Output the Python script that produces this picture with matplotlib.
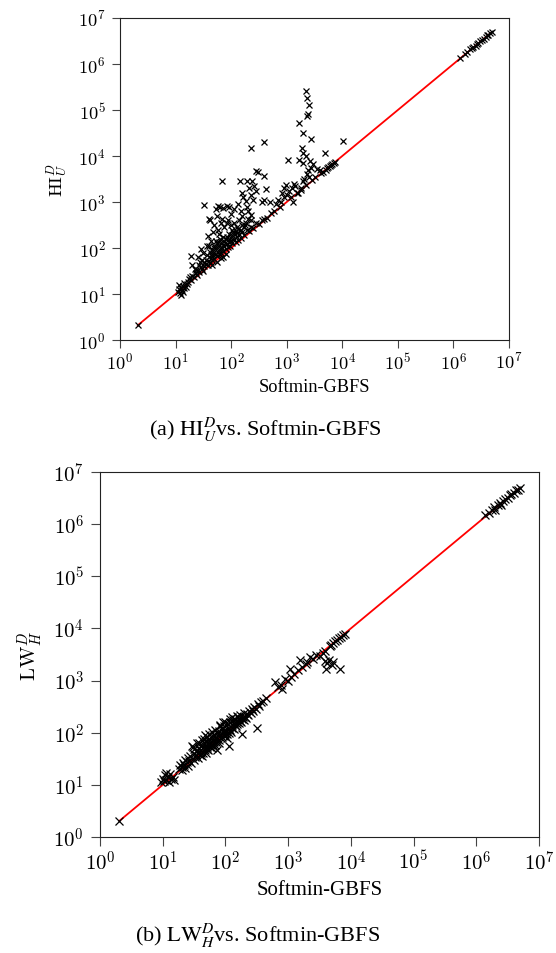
import matplotlib
matplotlib.use("Agg")
import matplotlib.pyplot as plt
from matplotlib.ticker import FixedLocator, FuncFormatter, NullLocator
import numpy as np

plt.rcParams['mathtext.fontset'] = 'cm'
plt.rcParams['font.family'] = ['Liberation Serif', 'DejaVu Serif']

# expansions, as log10 values (x = Softmin-GBFS)
hi_log_x = [0.32,
            1.04, 1.06, 1.08, 1.10, 1.12, 1.14, 1.16, 1.07, 1.18, 1.10, 1.13,
            1.22, 1.25, 1.28, 1.30, 1.33, 1.36, 1.38, 1.40, 1.42, 1.45, 1.48, 1.50,
            1.35, 1.30, 1.44, 1.40, 1.28, 1.50, 1.46,
            1.52, 1.55, 1.58, 1.60, 1.62, 1.64, 1.66, 1.68, 1.70, 1.72, 1.74, 1.76,
            1.78, 1.80, 1.82, 1.84, 1.86, 1.88, 1.90, 1.92, 1.94, 1.96, 1.98, 2.00,
            1.70, 1.75, 1.80, 1.85, 1.65, 1.60, 1.72, 1.78, 1.68, 1.58, 1.62, 1.66,
            1.74, 1.82, 1.90, 1.86,
            2.02, 2.05, 2.08, 2.10, 2.12, 2.15, 2.18, 2.20, 2.24, 2.28, 2.32, 2.36,
            2.40, 2.45, 2.50, 2.55, 2.60, 2.64, 2.10, 2.05, 2.15, 2.20, 2.25, 2.30, 2.02,
            1.51, 1.60, 1.62, 1.72, 1.76, 1.80, 1.86, 1.92, 1.97, 1.74, 1.84, 1.92,
            1.83, 2.16, 2.20, 2.22, 2.26, 2.29, 2.32, 2.38, 2.35, 2.40, 2.28, 2.18,
            2.30, 2.36, 2.45, 2.48, 2.60, 2.62, 2.59, 2.55, 2.42, 2.44, 2.36, 2.12,
            2.05, 2.00, 2.36, 2.60,
            1.55, 1.57, 1.63, 1.67, 1.69, 1.73, 1.77, 1.79, 1.81, 1.83, 1.87, 1.89,
            1.91, 1.93, 1.95, 1.97, 1.99, 2.01, 2.03, 2.07, 2.09, 2.11, 2.13, 2.17,
            2.19, 2.23, 2.27, 1.64, 1.76, 1.88, 1.94, 2.00, 1.82, 1.70, 1.56, 1.48,
            1.52, 1.42, 1.36, 1.26, 1.20, 1.15,
            2.70, 2.80, 2.85, 2.92, 2.95, 2.98, 2.90, 2.96, 3.00, 3.05, 3.13, 3.10,
            3.15, 3.12, 3.03, 3.23, 3.20, 3.25, 3.30, 3.32, 3.36, 3.40, 3.44, 3.48,
            3.42, 3.38, 3.30, 3.28, 3.30, 3.35, 3.43, 3.30, 3.23, 3.36, 3.39, 3.40,
            3.36, 3.35, 3.69, 4.02, 3.55, 3.60, 3.50, 3.45, 3.35, 3.25, 3.18, 3.08,
            2.88, 2.78, 2.72,
            3.62, 3.66, 3.70, 3.72, 3.75, 3.78, 3.80, 3.82, 3.85, 3.87,
            6.12, 6.20, 6.25, 6.30, 6.33, 6.36, 6.40, 6.42, 6.45, 6.48, 6.52, 6.55,
            6.58, 6.60, 6.63, 6.66, 6.69]
hi_log_y = [0.32,
            1.04, 1.10, 1.02, 1.14, 1.08, 1.18, 1.12, 1.20, 1.16, 0.98, 1.05,
            1.26, 1.32, 1.30, 1.40, 1.36, 1.46, 1.42, 1.52, 1.48, 1.58, 1.54, 1.50,
            1.55, 1.62, 1.70, 1.80, 1.82, 1.90, 1.98,
            1.60, 1.66, 1.62, 1.72, 1.68, 1.78, 1.74, 1.84, 1.76, 1.88, 1.82, 1.92,
            1.86, 1.96, 1.90, 2.00, 1.94, 2.04, 1.98, 2.08, 2.02, 2.12, 2.05, 2.15,
            2.00, 2.10, 2.20, 2.25, 1.95, 2.05, 2.15, 2.30, 2.35, 2.27, 1.92, 1.62,
            1.70, 1.78, 1.88, 1.80,
            2.10, 2.20, 2.14, 2.25, 2.18, 2.30, 2.22, 2.35, 2.28, 2.40, 2.36, 2.46,
            2.44, 2.55, 2.52, 2.60, 2.62, 2.66, 2.45, 2.55, 2.60, 2.70, 2.50, 2.62, 2.40,
            2.93, 2.63, 2.60, 2.85, 2.92, 2.90, 2.88, 2.92, 2.90, 2.70, 2.62, 2.55,
            3.46, 3.45, 3.20, 3.10, 3.02, 3.46, 3.30, 3.46, 3.15, 3.05, 2.90, 2.80,
            2.80, 2.72, 3.68, 3.66, 3.56, 3.29, 3.04, 3.00, 3.35, 3.25, 2.60, 2.95,
            2.85, 2.75, 4.18, 4.31,
            1.75, 1.85, 1.85, 1.90, 2.05, 2.00, 2.05, 2.12, 2.02, 2.10, 2.15, 2.10,
            2.20, 2.25, 2.18, 2.30, 2.22, 2.28, 2.35, 2.30, 2.38, 2.32, 2.42, 2.40,
            2.50, 2.45, 2.55, 2.15, 2.40, 2.45, 2.60, 2.50, 2.55, 2.50, 2.05, 1.75,
            1.68, 1.62, 1.52, 1.36, 1.22, 1.25,
            3.00, 2.95, 3.05, 3.20, 3.30, 3.38, 3.00, 3.10, 3.15, 3.25, 3.40, 3.30,
            3.35, 3.00, 3.92, 3.91, 3.20, 3.30, 3.45, 3.50, 3.60, 3.55, 3.75, 3.82,
            3.90, 3.70, 3.85, 4.18, 4.07, 4.00, 4.38, 4.50, 4.71, 4.88, 4.92, 5.11,
            5.26, 5.41, 4.06, 4.33, 3.72, 3.70, 3.55, 3.48, 3.37, 3.26, 3.20, 3.10,
            2.90, 2.80, 2.76,
            3.62, 3.66, 3.70, 3.73, 3.76, 3.78, 3.80, 3.83, 3.85, 3.87,
            6.13, 6.22, 6.26, 6.32, 6.34, 6.38, 6.40, 6.43, 6.45, 6.50, 6.52, 6.55,
            6.58, 6.62, 6.63, 6.67, 6.70]

lw_log_x = [0.31,
            0.98, 1.00, 1.02, 1.04, 1.06, 1.08, 1.10, 1.12, 1.14, 1.16, 1.05, 1.18,
            1.26, 1.28, 1.30, 1.32, 1.34, 1.36, 1.38, 1.40, 1.42, 1.44, 1.46, 1.48,
            1.50, 1.52, 1.54, 1.56, 1.58, 1.60, 1.62, 1.64, 1.66, 1.68, 1.70, 1.72,
            1.74, 1.76, 1.78, 1.80, 1.82, 1.84, 1.86, 1.86, 1.88, 1.90, 1.91, 1.92,
            1.94, 1.96, 1.98, 2.00, 2.02, 2.05, 2.04, 2.06, 2.08, 2.10, 2.12, 2.14,
            2.16, 2.18, 2.20, 2.22, 2.26, 2.24, 2.28, 2.30, 2.34, 2.38, 2.42, 2.46,
            2.50, 2.52, 2.56,
            1.60, 1.65, 1.70, 1.75, 1.80, 1.85, 1.90, 1.95, 2.00, 2.05, 1.62, 1.70,
            1.78, 1.55, 1.68, 1.96, 2.10,
            1.30, 1.35, 1.40, 1.45, 1.50, 1.53, 1.57, 1.61, 1.63, 1.67, 1.69, 1.71,
            1.73, 1.77, 1.79, 1.81, 1.83, 1.87, 1.89, 1.93, 1.97, 1.99, 2.01, 2.03,
            2.07, 2.09, 2.11, 2.13, 2.15, 2.17, 2.19, 2.21, 2.23, 2.25, 2.27, 2.29,
            2.31, 2.33, 2.36, 2.40, 2.44, 2.48, 2.54, 2.60, 2.64, 1.58, 1.66, 1.74,
            1.84, 1.92, 2.00, 2.08, 2.18, 1.50,
            2.79, 2.84, 2.88, 2.90, 2.95, 3.00, 3.03, 3.05, 3.10, 3.15, 3.19, 3.22,
            3.28, 3.30, 3.35, 3.40, 3.45, 3.50, 3.55, 3.59, 3.62, 3.65, 3.70, 3.72,
            3.60, 3.82, 3.58,
            3.66, 3.69, 3.72, 3.75, 3.78, 3.81, 3.84, 3.87, 3.90,
            6.14, 6.20, 6.25, 6.28, 6.30, 6.34, 6.38, 6.40, 6.43, 6.46, 6.50, 6.53,
            6.56, 6.60, 6.63, 6.66, 6.69]
lw_log_y = [0.31,
            1.05, 1.12, 1.08, 1.18, 1.10, 1.15, 1.06, 1.20, 1.12, 1.16, 1.22, 1.10,
            1.30, 1.38, 1.34, 1.42, 1.38, 1.48, 1.44, 1.52, 1.46, 1.56, 1.75, 1.72,
            1.60, 1.54, 1.66, 1.62, 1.70, 1.66, 1.76, 1.70, 1.80, 1.74, 1.84, 1.78,
            1.88, 1.82, 1.92, 1.86, 1.96, 1.90, 1.66, 2.00, 1.94, 2.04, 2.14, 1.98,
            2.08, 2.02, 2.12, 2.06, 1.90, 1.75, 2.16, 2.10, 2.20, 2.14, 2.24, 2.18,
            2.26, 2.20, 2.30, 2.26, 1.98, 2.34, 2.30, 2.38, 2.36, 2.42, 2.46, 2.50,
            2.10, 2.56, 2.58,
            1.58, 1.62, 1.68, 1.72, 1.76, 1.82, 1.86, 1.92, 1.96, 2.00, 1.86, 1.92,
            2.02, 1.80, 1.95, 2.20, 2.30,
            1.28, 1.32, 1.36, 1.42, 1.48, 1.58, 1.52, 1.62, 1.56, 1.66, 1.62, 1.72,
            1.66, 1.76, 1.70, 1.82, 1.76, 1.88, 1.80, 1.90, 1.94, 2.00, 2.04, 1.98,
            2.06, 2.02, 2.10, 2.08, 2.14, 2.12, 2.16, 2.18, 2.22, 2.20, 2.26, 2.24,
            2.30, 2.28, 2.34, 2.38, 2.42, 2.46, 2.52, 2.60, 2.66, 1.80, 1.88, 1.98,
            2.06, 2.12, 2.20, 2.26, 2.32, 1.68,
            2.97, 2.88, 2.92, 2.84, 3.03, 3.00, 3.22, 3.06, 3.12, 3.20, 3.40, 3.26,
            3.32, 3.36, 3.45, 3.42, 3.50, 3.48, 3.52, 3.38, 3.34, 3.40, 3.30, 3.36,
            3.22, 3.22, 3.56,
            3.66, 3.69, 3.72, 3.75, 3.78, 3.81, 3.84, 3.87, 3.90,
            6.17, 6.22, 6.27, 6.32, 6.28, 6.36, 6.40, 6.36, 6.45, 6.48, 6.50, 6.55,
            6.58, 6.60, 6.65, 6.66, 6.69]

decades = [0, 1, 2, 3, 4, 5, 6, 7]


def draw(ax, lx, ly, ylabel, fs, ms, tick_len):
    x = 10 ** np.array(lx)
    y = 10 ** np.array(ly)
    lo, hi = x.min(), x.max()
    ax.plot([lo, hi], [lo, hi], color='red', lw=1.3, zorder=1)
    ax.plot(x, y, 'x', color='black', ms=ms, mew=0.9, zorder=2)
    ax.set_xscale('log')
    ax.set_yscale('log')
    ax.set_xlim(1, 1e7)
    ax.set_ylim(1, 1e7)
    fmt = FuncFormatter(lambda v, p: r'$10^{%d}$' % round(np.log10(v)))
    for axis in (ax.xaxis, ax.yaxis):
        axis.set_major_locator(FixedLocator([10.0 ** d for d in decades]))
        axis.set_minor_locator(NullLocator())
        axis.set_major_formatter(fmt)
    ax.tick_params(direction='out', length=tick_len, width=0.8, color='#444444',
                   labelsize=fs, top=False, right=False)
    ax.tick_params(axis='y', pad=5)
    ax.tick_params(axis='x', pad=3)
    for s in ax.spines.values():
        s.set_linewidth(0.8)
        s.set_color('#222222')
    ax.set_xlabel('Softmin-GBFS', fontsize=fs, labelpad=4)
    ax.set_ylabel(ylabel, fontsize=fs, labelpad=6)


fig = plt.figure(figsize=(5.56, 9.54), dpi=100)

ax1 = fig.add_axes([120 / 556, 1 - 341 / 954, 389 / 556, 322 / 954])
draw(ax1, hi_log_x, hi_log_y, r'$\mathrm{HI}_U^D$', 13.2, 4.2, 5.5)

ax2 = fig.add_axes([100 / 556, 1 - 838 / 954, 439 / 556, 365 / 954])
draw(ax2, lw_log_x, lw_log_y, r'$\mathrm{LW}_H^D$', 15, 5.4, 6.5)

fig.text(265 / 556, 1 - 430 / 954, r'(a) $\mathrm{HI}_U^D$vs. Softmin-GBFS',
         ha='center', va='center', fontsize=16, math_fontfamily='stix')
fig.text(258 / 556, 1 - 936 / 954, r'(b) $\mathrm{LW}_H^D$vs. Softmin-GBFS',
         ha='center', va='center', fontsize=16, math_fontfamily='stix')

fig.savefig('out.png', dpi=100)
